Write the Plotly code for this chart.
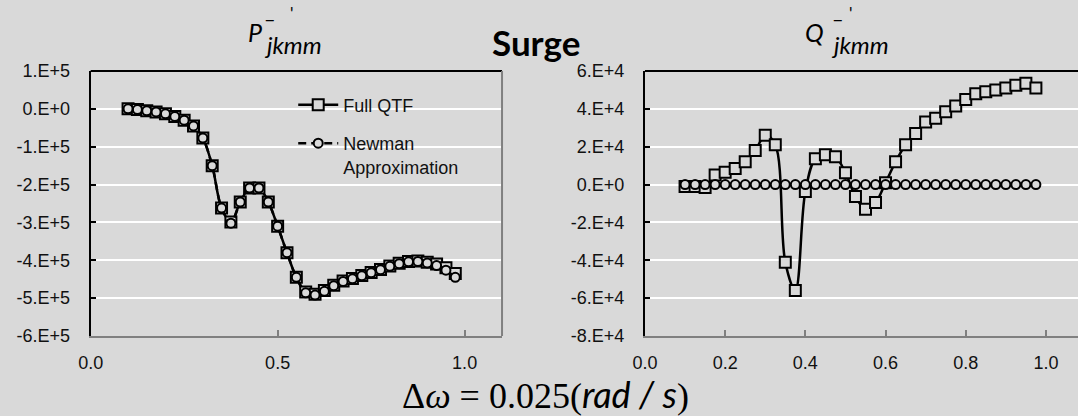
import plotly.graph_objects as go

# ---- data ----
freq = [0.1, 0.125, 0.15, 0.175, 0.2, 0.225, 0.25, 0.275, 0.3, 0.325, 0.35, 0.375,
        0.4, 0.425, 0.45, 0.475, 0.5, 0.525, 0.55, 0.575, 0.6, 0.625, 0.65, 0.675,
        0.7, 0.725, 0.75, 0.775, 0.8, 0.825, 0.85, 0.875, 0.9, 0.925, 0.95, 0.975]

p_full = [0, -2e3, -5e3, -8e3, -1.3e4, -2e4, -3e4, -4.5e4, -7.7e4, -1.5e5, -2.62e5, -2.99e5,
          -2.46e5, -2.09e5, -2.09e5, -2.46e5, -3.1e5, -3.8e5, -4.45e5, -4.84e5, -4.9e5, -4.8e5,
          -4.66e5, -4.55e5, -4.48e5, -4.4e5, -4.32e5, -4.24e5, -4.15e5, -4.08e5, -4.03e5,
          -4.02e5, -4.05e5, -4.1e5, -4.2e5, -4.35e5]
p_newman = [0, -2e3, -5e3, -8e3, -1.3e4, -2e4, -3e4, -4.5e4, -7.7e4, -1.5e5, -2.62e5, -3.02e5,
            -2.46e5, -2.09e5, -2.09e5, -2.46e5, -3.1e5, -3.8e5, -4.45e5, -4.86e5, -4.92e5, -4.82e5,
            -4.67e5, -4.56e5, -4.49e5, -4.41e5, -4.33e5, -4.25e5, -4.16e5, -4.09e5, -4.04e5,
            -4.03e5, -4.07e5, -4.14e5, -4.26e5, -4.45e5]

q_full = [-1e3, -1e3, -1.5e3, 5e3, 6.5e3, 8.5e3, 1.2e4, 1.8e4, 2.6e4, 2.1e4, -4.1e4, -5.6e4,
          -3.7e3, 1.37e4, 1.58e4, 1.47e4, 6.3e3, -6.3e3, -1.3e4, -9.5e3, 1e3, 1.2e4,
          2.1e4, 2.7e4, 3.3e4, 3.5e4, 3.85e4, 4.15e4, 4.5e4, 4.8e4, 4.9e4, 5.0e4,
          5.1e4, 5.25e4, 5.35e4, 5.1e4]
q_newman = [0] * 36

p_ticks = [1e5, 0, -1e5, -2e5, -3e5, -4e5, -5e5, -6e5]
p_ticktext = ["1.E+5", "0.E+0", "-1.E+5", "-2.E+5", "-3.E+5", "-4.E+5", "-5.E+5", "-6.E+5"]
q_ticks = [6e4, 4e4, 2e4, 0, -2e4, -4e4, -6e4, -8e4]
q_ticktext = ["6.E+4", "4.E+4", "2.E+4", "0.E+0", "-2.E+4", "-4.E+4", "-6.E+4", "-8.E+4"]

BG = "#d9d9d9"
FONT = "Liberation Sans"
W, H = 1078, 416

fig = go.Figure()

def add_series(x, y, xa, ya, name, symbol, dash, show, group):
    fig.add_trace(go.Scatter(
        x=x, y=y, xaxis=xa, yaxis=ya, name=name, mode="lines+markers",
        line=dict(color="black", width=2.5, dash=dash, shape="spline"),
        marker=dict(symbol=symbol, size=11 if symbol == "square" else 9, color=BG,
                    line=dict(color="black", width=2)),
        showlegend=show, legendgroup=group))

add_series(freq, p_full, "x", "y", "Full QTF", "square", "solid", True, "a")
add_series(freq, p_newman, "x", "y", "Newman<br>Approximation", "circle", "8px,5px", True, "b")
add_series(freq, q_full, "x2", "y2", "Full QTF", "square", "solid", False, "a")
add_series(freq, q_newman, "x2", "y2", "Newman Approximation", "circle", "8px,5px", False, "b")

xcommon = dict(ticks="inside", ticklen=6, tickcolor="#808080", tickwidth=2,
               showline=True, linecolor="#808080", linewidth=2, showgrid=False,
               zeroline=False, tickformat=".1f", ticklabelstandoff=9, automargin=False,
               tickfont=dict(family=FONT, size=18, color="#111"))
ycommon = dict(ticks="inside", ticklen=5, tickcolor="black", tickwidth=2,
               showline=True, linecolor="black", linewidth=2, showgrid=True,
               gridcolor="white", gridwidth=2, zeroline=False, ticklabelstandoff=15,
               automargin=False, tickfont=dict(family=FONT, size=18, color="#111"))

def ann(text, px, py, size, family="Lato", xanchor="center"):
    return dict(text=text, x=px / W, y=1 - py / H, xref="paper", yref="paper",
                xanchor=xanchor, yanchor="middle", showarrow=False,
                font=dict(family=family, size=size, color="black"))

fig.update_layout(
    width=W, height=H, margin=dict(l=0, r=0, t=0, b=0, autoexpand=False),
    paper_bgcolor=BG, plot_bgcolor=BG,
    xaxis=dict(domain=[0.0841, 0.4657], range=[0, 1.1], tickvals=[0, 0.5, 1.0], anchor="y", **xcommon),
    yaxis=dict(domain=[0.1923, 0.8293], range=[-6e5, 1e5], tickvals=p_ticks, ticktext=p_ticktext,
               anchor="x", **ycommon),
    xaxis2=dict(domain=[0.5983, 1.0], range=[0, 1.08], tickvals=[0, 0.2, 0.4, 0.6, 0.8, 1.0],
                anchor="y2", **xcommon),
    yaxis2=dict(domain=[0.1923, 0.8293], range=[-8e4, 6e4], tickvals=q_ticks, ticktext=q_ticktext,
                anchor="x2", **ycommon),
    showlegend=True,
    legend=dict(x=0.272, y=0.792, xanchor="left", yanchor="top", bgcolor="rgba(0,0,0,0)",
                font=dict(family=FONT, size=18, color="#111"), traceorder="grouped",
                tracegroupgap=12, valign="top", itemwidth=40),
    shapes=[
        dict(type="line", xref="x domain", yref="y domain", x0=0, x1=1, y0=1, y1=1,
             line=dict(color="black", width=2)),
        dict(type="line", xref="x domain", yref="y domain", x0=1, x1=1, y0=0, y1=1,
             line=dict(color="#808080", width=2)),
        dict(type="line", xref="x2 domain", yref="y2 domain", x0=0, x1=1, y0=1, y1=1,
             line=dict(color="black", width=2)),
    ],
    annotations=[
        ann("<b>Surge</b>", 536, 42, 35),
        ann("<i>P</i>", 255, 32, 25),
        ann("<i>jkmm</i>", 262, 45, 24, xanchor="left"),
        ann("–", 270, 18, 20),
        ann("'", 291, 14, 17),
        ann("<i>Q</i>", 814, 32, 25),
        ann("<i>jkmm</i>", 829, 45, 24, xanchor="left"),
        ann("–", 838, 18, 20),
        ann("'", 850, 14, 17),
        ann("Δ<i>ω</i> = 0.025(<span style='font-family:Lato'><i>rad / s</i></span>)",
            546, 394, 36, family="Liberation Serif"),
    ],
)

fig.write_html("out.html")
